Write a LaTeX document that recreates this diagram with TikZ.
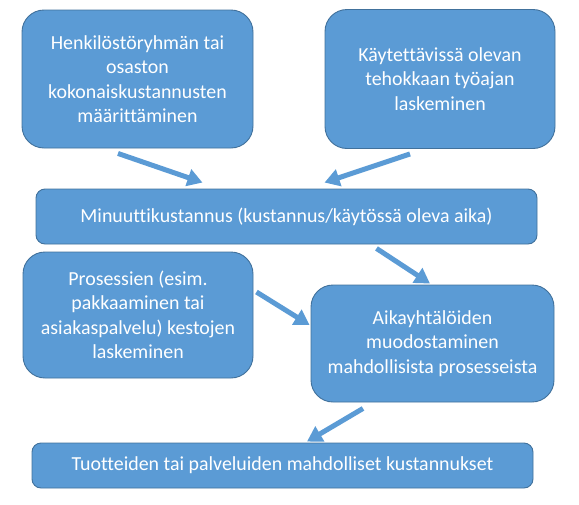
\documentclass[tikz,border=0pt]{standalone}
\usepackage{fontspec}
\setmainfont{Carlito}[Ligatures={NoCommon}]
\usepackage{tikz}
\usetikzlibrary{arrows.meta}
\definecolor{boxblue}{HTML}{5B9BD5}
\definecolor{boxedge}{HTML}{41719C}

\begin{document}
\begin{tikzpicture}[x=1pt,y=-1pt,every text node part/.style={align=center},
  stepbox/.style={draw=boxedge,line width=0.9pt,fill=boxblue,text=white,inner sep=0pt,font=\fontsize{19.9}{24.5}\selectfont},
  bigbox/.style={stepbox,rounded corners=22pt},
  barbox/.style={stepbox,rounded corners=9pt},
  flow/.style={draw=boxblue,line width=5pt,-{Triangle[length=15pt,width=17pt]}}]
\useasboundingbox (0,0) rectangle (579,504);
\node [bigbox,minimum width=231pt,minimum height=138pt] (kok) at (137.5,79) {Henkilöstöryhmän tai\\osaston\\kokonaiskustannusten\\määrittäminen};
\node [bigbox,minimum width=230pt,minimum height=139pt] (aika) at (440,79) {Käytettävissä olevan\\tehokkaan työajan\\laskeminen};
\node [barbox,minimum width=501pt,minimum height=55pt] (min) at (286.5,216.5) {Minuuttikustannus (kustannus/käytössä oleva aika)};
\node [bigbox,minimum width=230pt,minimum height=126pt] (pros) at (138,315) {Prosessien (esim.\\pakkaaminen tai\\asiakaspalvelu) kestojen\\laskeminen};
\node [bigbox,minimum width=243pt,minimum height=117pt] (yht) at (432.5,343.5) {Aikayhtälöiden\\muodostaminen\\mahdollisista prosesseista};
\node [barbox,minimum width=501pt,minimum height=45pt] (tuot) at (282.5,465.5) {Tuotteiden tai palveluiden mahdolliset kustannukset};
% nuolet
\draw [flow] ([xshift=-19.5pt,yshift=-5pt]kok.south) -- ([xshift=-84pt,yshift=6pt]min.north);
\draw [flow] ([xshift=-30pt,yshift=-5pt]aika.south) -- ([xshift=38pt,yshift=6pt]min.north);
\draw [flow] ([xshift=90pt,yshift=-4pt]min.south) -- ([xshift=-2.5pt,yshift=1pt]yht.north);
\draw [flow] ([xshift=3pt,yshift=23pt]pros.east) -- ([xshift=-1pt,yshift=18.5pt]yht.west);
\draw [flow] ([xshift=-69.5pt,yshift=-6pt]yht.south) -- ([xshift=24.5pt,yshift=1pt]tuot.north);
\end{tikzpicture}
\end{document}
